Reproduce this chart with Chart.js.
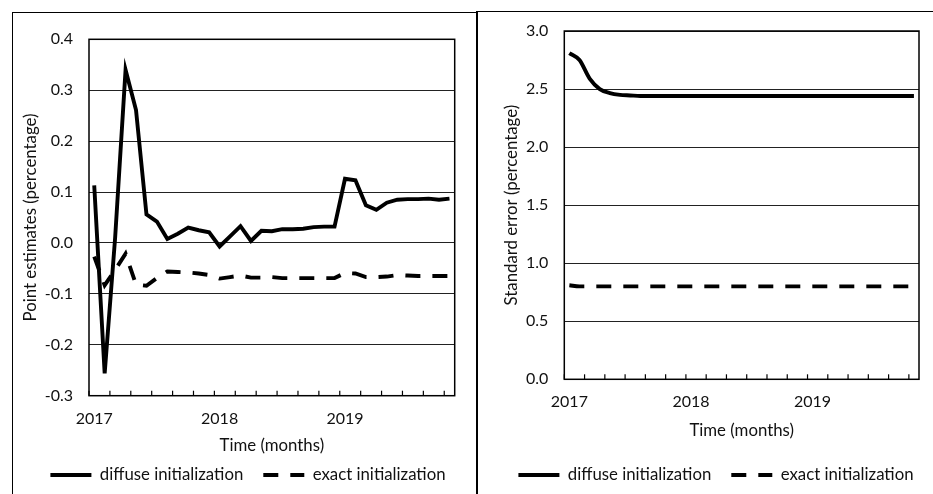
<!DOCTYPE html>
<html>
<head>
<meta charset="utf-8">
<script src="https://cdn.jsdelivr.net/npm/chart.js@4.4.1/dist/chart.umd.min.js"></script>
<style>
  html, body { margin: 0; padding: 0; background: #fff; overflow: hidden; width: 933px; height: 494px; }
  .frame { position: absolute; box-sizing: border-box; border-color: #000; border-style: solid; }
  #frameL { left: 12px; top: 12px; width: 466px; height: 520px; border-width: 1.5px 0 0 1.5px; }
  #frameR { left: 476px; top: 11px; width: 480px; height: 520px; border-width: 1.5px 0 0 2px; }
  canvas { position: absolute; }
  #cL { left: 13px; top: 13px; }
  #cR { left: 478px; top: 12px; }
</style>
</head>
<body>
<div class="frame" id="frameL"></div>
<div class="frame" id="frameR"></div>
<canvas id="cL" width="470" height="481"></canvas>
<canvas id="cR" width="476" height="482"></canvas>
<script>
// Monthly observations, January 2017 to November 2019
const categories = [
  '2017-01','2017-02','2017-03','2017-04','2017-05','2017-06','2017-07','2017-08','2017-09','2017-10','2017-11','2017-12',
  '2018-01','2018-02','2018-03','2018-04','2018-05','2018-06','2018-07','2018-08','2018-09','2018-10','2018-11','2018-12',
  '2019-01','2019-02','2019-03','2019-04','2019-05','2019-06','2019-07','2019-08','2019-09','2019-10','2019-11'
];
const yearTickLabels = ['2017', '2018', '2019'];

// Point estimates (percentage)
const diffuseEstimate = [
  0.113, -0.256, 0.010, 0.340, 0.261, 0.056, 0.042, 0.008, 0.018, 0.030, 0.025, 0.021,
  -0.007, 0.013, 0.033, 0.004, 0.024, 0.023, 0.027, 0.027, 0.028, 0.031, 0.032, 0.032,
  0.126, 0.123, 0.074, 0.065, 0.079, 0.085, 0.086, 0.086, 0.087, 0.085, 0.087
];
const exactEstimate = [
  -0.027, -0.083, -0.053, -0.021, -0.082, -0.084, -0.069, -0.056, -0.057, -0.058, -0.060, -0.063,
  -0.070, -0.067, -0.064, -0.068, -0.068, -0.067, -0.069, -0.069, -0.069, -0.069, -0.069, -0.069,
  -0.059, -0.060, -0.067, -0.067, -0.066, -0.063, -0.064, -0.065, -0.065, -0.065, -0.065
];

// Standard errors (percentage)
const diffuseStdError = [
  2.81, 2.75, 2.59, 2.50, 2.465, 2.45, 2.445, 2.44, 2.44, 2.44, 2.44, 2.44,
  2.44, 2.44, 2.44, 2.44, 2.44, 2.44, 2.44, 2.44, 2.44, 2.44, 2.44, 2.44,
  2.44, 2.44, 2.44, 2.44, 2.44, 2.44, 2.44, 2.44, 2.44, 2.44, 2.44
];
const exactStdError = [
  0.81, 0.80, 0.80, 0.80, 0.80, 0.80, 0.80, 0.80, 0.80, 0.80, 0.80, 0.80,
  0.80, 0.80, 0.80, 0.80, 0.80, 0.80, 0.80, 0.80, 0.80, 0.80, 0.80, 0.80,
  0.80, 0.80, 0.80, 0.80, 0.80, 0.80, 0.80, 0.80, 0.80, 0.80, 0.80
];

const FONT = 'Lato';
const TICK_FS = 16;
const TEXT_FS = 16.8;
const INK = '#111';
const LINE_W = 3.9;
const DASH = [15, 12];

// Short tick marks pointing into the plot, every second month, on band edges
const innerTicks = {
  id: 'innerTicks',
  afterDatasetsDraw(chart) {
    const x = chart.scales.x;
    const ctx = chart.ctx;
    const bottom = chart.chartArea.bottom;
    const half = (x.getPixelForValue(1) - x.getPixelForValue(0)) / 2;
    ctx.save();
    ctx.strokeStyle = '#000';
    ctx.lineWidth = 1.2;
    for (let i = 0; i < categories.length; i += 2) {
      const px = x.getPixelForValue(i) - half;
      ctx.beginPath();
      ctx.moveTo(px, bottom);
      ctx.lineTo(px, bottom - 5);
      ctx.stroke();
    }
    ctx.restore();
  }
};

// Black box round the plotting area
const plotFrame = {
  id: 'plotFrame',
  afterDraw(chart) {
    const a = chart.chartArea;
    const ctx = chart.ctx;
    ctx.save();
    ctx.strokeStyle = '#000';
    ctx.lineWidth = 1.5;
    ctx.strokeRect(a.left, a.top, a.right - a.left, a.bottom - a.top);
    ctx.restore();
  }
};

// Legend entries drawn as line samples carrying each series' own stroke
function lineLegendLabels(chart) {
  return chart.data.datasets.map((ds, i) => ({
    text: ds.label,
    fillStyle: ds.borderColor,
    strokeStyle: ds.borderColor,
    fontColor: INK,
    lineWidth: ds.borderWidth,
    lineDash: ds.borderDash || [],
    lineDashOffset: 0,
    lineCap: 'butt',
    pointStyle: 'line',
    rotation: 0,
    hidden: false,
    datasetIndex: i
  }));
}

function makeChart(canvasId, cfg) {
  const common = {
    borderColor: '#000',
    backgroundColor: '#000',
    borderWidth: LINE_W,
    pointRadius: 0,
    tension: cfg.smooth ? 0.4 : 0,
    cubicInterpolationMode: cfg.smooth ? 'monotone' : 'default'
  };
  const solid = Object.assign({ label: 'diffuse initialization', data: cfg.diffuse }, common);
  const dashed = Object.assign({ label: 'exact initialization', data: cfg.exact, borderDash: DASH }, common);

  return new Chart(document.getElementById(canvasId), {
    type: 'line',
    data: { labels: categories, datasets: [solid, dashed] },
    plugins: [innerTicks, plotFrame],
    options: {
      responsive: false,
      animation: false,
      devicePixelRatio: 1,
      layout: { padding: { top: cfg.padTop, bottom: cfg.padBottom, left: 0, right: 0 } },
      plugins: {
        tooltip: { enabled: false },
        legend: {
          position: 'bottom',
          labels: {
            usePointStyle: true,
            pointStyle: 'line',
            pointStyleWidth: 41,
            padding: 20,
            color: INK,
            font: { family: FONT, size: TEXT_FS },
            generateLabels: lineLegendLabels
          }
        }
      },
      scales: {
        x: {
          type: 'category',
          offset: true,
          grid: { display: false, drawTicks: false, offset: true },
          border: { display: false },
          ticks: {
            autoSkip: false,
            maxRotation: 0,
            padding: cfg.xTickPad,
            color: INK,
            font: { family: FONT, size: TICK_FS },
            callback: (v, i) => (i % 12 === 0 ? yearTickLabels[i / 12] : '')
          },
          title: {
            display: true,
            text: 'Time (months)',
            color: INK,
            font: { family: FONT, size: TEXT_FS },
            padding: { top: 0, bottom: cfg.xTitlePad }
          },
          afterFit: s => { s.height = cfg.xHeight; }
        },
        y: {
          position: 'left',
          min: cfg.yMin,
          max: cfg.yMax,
          grid: { color: '#222', lineWidth: 1, drawTicks: true, tickLength: 13, tickColor: 'rgba(0,0,0,0)' },
          border: { display: false },
          ticks: {
            stepSize: cfg.yStep,
            padding: 3,
            color: INK,
            font: { family: FONT, size: TICK_FS },
            callback: v => Number(v).toFixed(1)
          },
          title: {
            display: true,
            text: cfg.yTitle,
            color: INK,
            font: { family: FONT, size: TEXT_FS },
            padding: { top: cfg.yTitlePad, bottom: 0 }
          },
          afterFit: s => { s.width = cfg.yWidth; }
        },
        spacer: {
          type: 'linear',
          position: 'right',
          display: true,
          grid: { display: false, drawTicks: false },
          border: { display: false },
          ticks: { display: false },
          afterFit: s => { s.width = cfg.rightWidth; }
        }
      }
    }
  });
}

makeChart('cL', {
  diffuse: diffuseEstimate,
  exact: exactEstimate,
  smooth: false,
  yMin: -0.3, yMax: 0.4, yStep: 0.1,
  yTitle: 'Point estimates (percentage)',
  padTop: 26.3, padBottom: 0.6,
  yWidth: 76, rightWidth: 28.3,
  yTitlePad: 7.4,
  xHeight: 50.9, xTickPad: 14, xTitlePad: -9.5
});

makeChart('cR', {
  diffuse: diffuseStdError,
  exact: exactStdError,
  smooth: true,
  yMin: 0, yMax: 3, yStep: 0.5,
  yTitle: 'Standard error (percentage)',
  padTop: 19, padBottom: 0.6,
  yWidth: 86.3, rightWidth: 35,
  yTitlePad: 23.6,
  xHeight: 67.3, xTickPad: 12.8, xTitlePad: 5.5
});
</script>
</body>
</html>
